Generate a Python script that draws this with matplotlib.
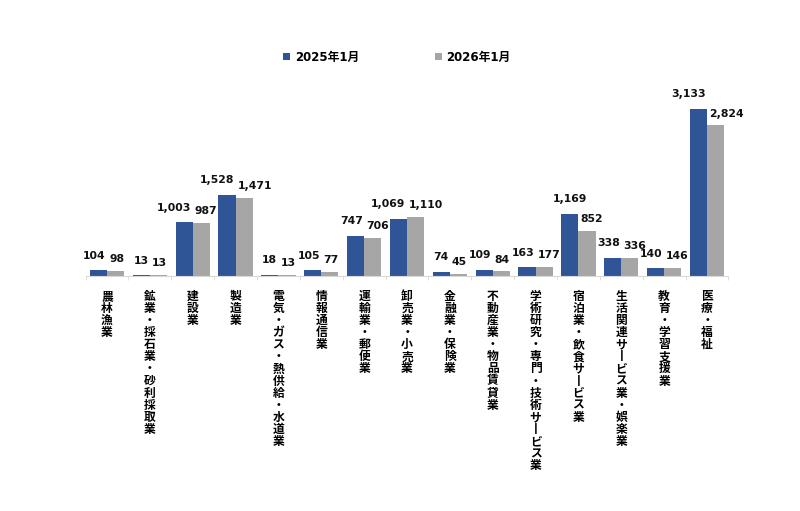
import matplotlib
matplotlib.use("Agg")
import matplotlib.pyplot as plt
import numpy as np

# 産業別の数値（2025年1月 / 2026年1月）
industries = ['農林漁業', '鉱業・採石業・砂利採取業', '建設業', '製造業',
              '電気・ガス・熱供給・水道業', '情報通信業', '運輸業・郵便業',
              '卸売業・小売業', '金融業・保険業', '不動産業・物品賃貸業',
              '学術研究・専門・技術サービス業', '宿泊業・飲食サービス業',
              '生活関連サービス業・娯楽業', '教育・学習支援業', '医療・福祉']
jan_2025 = [104, 13, 1003, 1528, 18, 105, 747, 1069, 74, 109, 163, 1169, 338, 140, 3133]
jan_2026 = [98, 13, 987, 1471, 13, 77, 706, 1110, 45, 84, 177, 852, 336, 146, 2824]
series_names = ['2025年1月', '2026年1月']

BLUE = '#2F5597'
GRAY = '#A6A6A6'
JP = ['Noto Sans CJK JP', 'DejaVu Sans']
NUM = ['DejaVu Sans', 'Noto Sans CJK JP']


def vertical(s):
    # 縦書き: 長音は縦棒に置き換え
    return '\n'.join(s.replace('ー', '丨'))


fig = plt.figure(figsize=(8, 5.11), dpi=100)
ax = fig.add_axes([0.107, 0.46, 0.8036, 0.365])

x = np.arange(len(industries))
w = 0.4
b1 = ax.bar(x - w / 2, jan_2025, w, color=BLUE, label=series_names[0])
b2 = ax.bar(x + w / 2, jan_2026, w, color=GRAY, label=series_names[1])

# データラベル: 重なる場合は左右に振り分ける
lbl = dict(textcoords='offset points', va='bottom', fontsize=7.8,
           fontweight='bold', family=NUM, color='#111111')
for i, (v1, v2) in enumerate(zip(jan_2025, jan_2026)):
    if v1 - v2 > 315:
        ax.annotate(f'{v1:,}', (i - w / 2, v1), xytext=(0, 7), ha='center', **lbl)
    else:
        ax.annotate(f'{v1:,}', (i, v1), xytext=(-1, 7), ha='right', **lbl)
    ax.annotate(f'{v2:,}', (i, v2), xytext=(1.5, 5), ha='left', **lbl)

ax.set_xlim(-0.5, len(industries) - 0.5)
ax.set_ylim(0, 3500)
ax.set_yticks([])
for s in ('top', 'right', 'left'):
    ax.spines[s].set_visible(False)
ax.spines['bottom'].set_color('#D9D9D9')

ax.set_xticks(x)
ax.set_xticklabels([vertical(s) for s in industries], va='top',
                   fontsize=8.5, fontweight='bold', family=JP,
                   linespacing=0.91)
ax.tick_params(axis='x', length=0, pad=10)
ax.set_xticks(np.arange(-0.5, len(industries)), minor=True)
ax.tick_params(axis='x', which='minor', length=3, color='#D9D9D9')

fig.legend(handles=[b1, b2], loc='center', bbox_to_anchor=(0.496, 0.888),
           ncol=2, frameon=False, columnspacing=6.4, handlelength=0.6,
           handleheight=0.6, handletextpad=0.4,
           prop={'family': NUM, 'weight': 'bold', 'size': 8.5})

fig.savefig('out.png', dpi=100, facecolor='white')
